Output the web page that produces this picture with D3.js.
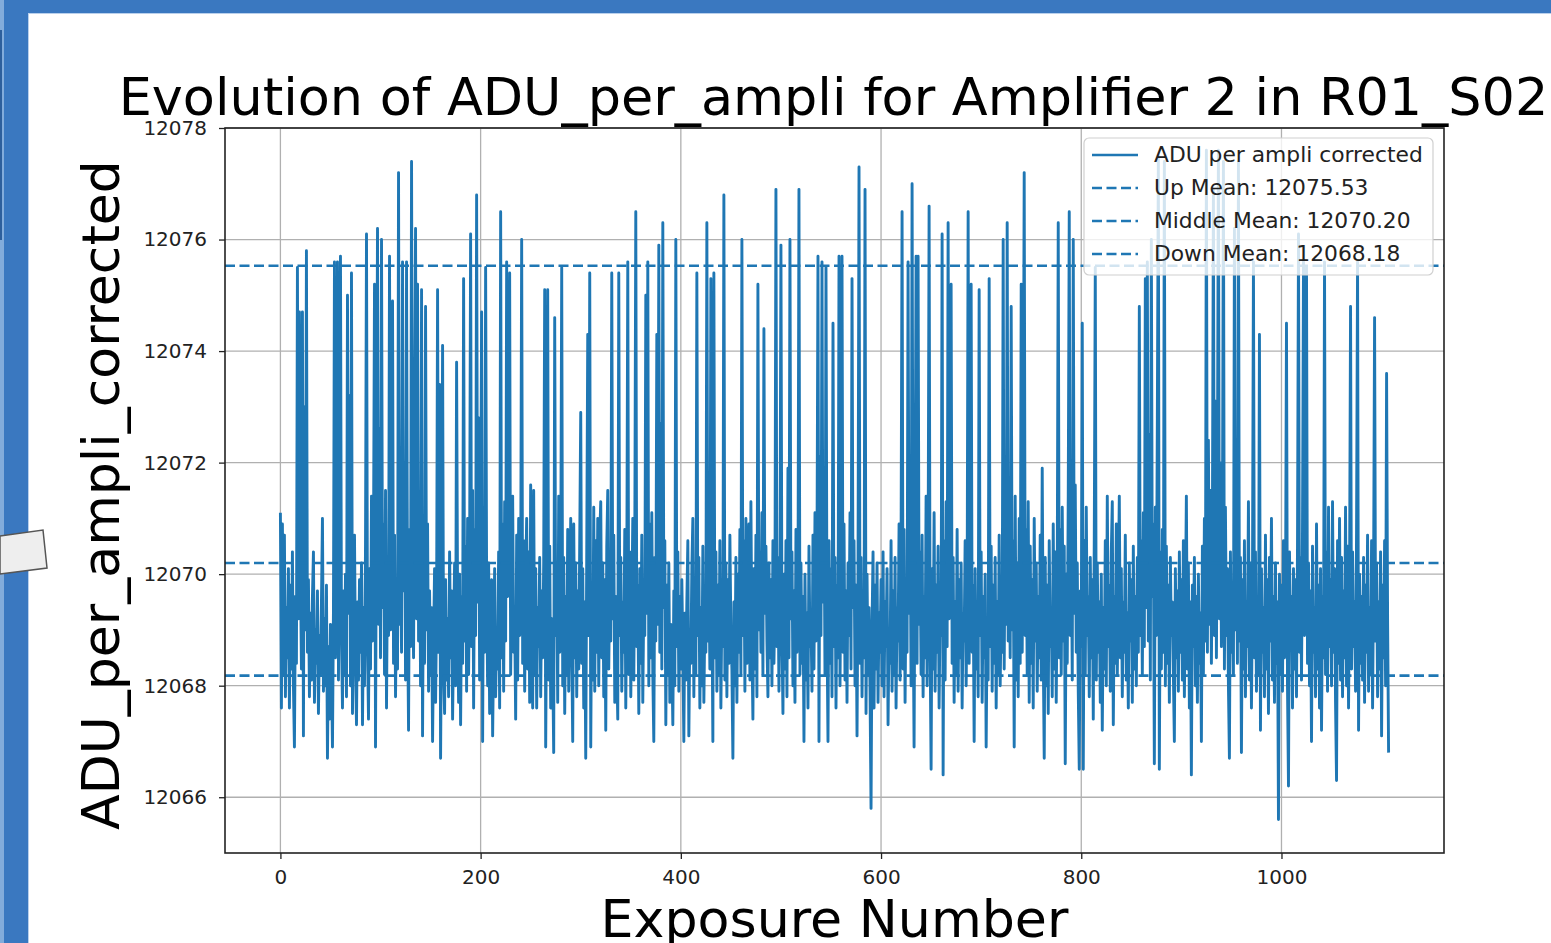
<!DOCTYPE html>
<html>
<head>
<meta charset="utf-8">
<script src="https://cdn.jsdelivr.net/npm/d3@7"></script>
<style>
  body { margin: 0; background: #fff; overflow: hidden; }
  text { font-family: "DejaVu Sans", sans-serif; }
</style>
</head>
<body>
<div id="chart-area"></div>
<script>
var width = 1551,
    height = 943;

// chart texts
var titleText = "Evolution of ADU_per_ampli for Amplifier 2 in R01_S02";
var xLabelText = "Exposure Number";
var yLabelText = "ADU_per_ampli_corrected";

// ticks
var xTicks = [0, 200, 400, 600, 800, 1000];
var yTicks = [12066, 12068, 12070, 12072, 12074, 12076, 12078];
var yDomain = [12065, 12078];

// mean lines
var meanNames = ["Up Mean", "Middle Mean", "Down Mean"];
var meanValues = [12075.53, 12070.20, 12068.18];
var seriesName = "ADU per ampli corrected";

// ADU per ampli corrected, one value per exposure
var adu = [
12071.1,12067.6,12070.9,12068.2,12070.7,12067.8,12069.4,12068.5,12070.1,12067.6,12069.8,12068.3,12070.4,12068.0,12066.9,12069.6,12068.4,12075.5,12069.2,12074.7,
12070.1,12068.3,12074.7,12067.1,12073.0,12069.0,12075.8,12068.6,12069.9,12067.8,12069.3,12068.1,12069.6,12070.4,12067.7,12069.0,12068.4,12069.7,12067.5,12068.9,
12068.2,12069.5,12071.0,12067.9,12069.2,12068.0,12069.8,12066.7,12068.7,12067.4,12069.1,12068.3,12066.9,12069.4,12075.6,12068.5,12070.2,12075.6,12068.1,12070.8,
12075.7,12068.9,12067.6,12069.7,12068.2,12070.0,12067.8,12075.0,12069.3,12073.2,12068.0,12075.4,12067.5,12069.8,12070.7,12068.4,12067.3,12069.5,12068.1,12069.9,
12068.6,12070.2,12067.3,12069.4,12068.0,12070.5,12076.1,12068.7,12067.4,12070.1,12068.3,12071.4,12068.8,12070.6,12075.2,12066.9,12071.8,12076.2,12069.1,12072.6,
12068.5,12076.0,12069.4,12070.9,12068.2,12071.5,12067.6,12070.3,12068.9,12075.7,12069.0,12071.2,12074.9,12068.4,12070.7,12067.8,12069.6,12068.3,12077.2,12069.1,
12070.4,12068.6,12075.6,12069.7,12072.0,12068.1,12075.6,12069.3,12067.2,12070.8,12068.7,12077.4,12070.0,12068.5,12072.4,12076.2,12069.2,12075.2,12068.8,12071.3,
12068.0,12075.1,12067.1,12070.6,12068.4,12074.8,12069.0,12070.9,12067.9,12069.7,12068.2,12069.4,12067.0,12068.8,12070.1,12067.7,12069.3,12075.1,12068.6,12073.4,
12066.7,12069.5,12074.1,12068.3,12067.5,12069.9,12068.1,12069.2,12067.8,12070.4,12068.5,12069.7,12067.4,12068.9,12070.2,12068.0,12073.8,12069.4,12067.7,12070.0,
12067.3,12069.6,12068.4,12075.3,12068.8,12070.5,12067.9,12071.0,12068.2,12070.3,12076.1,12068.7,12071.5,12067.6,12070.8,12068.9,12076.8,12069.5,12072.8,12068.1,
12070.6,12074.7,12067.0,12071.2,12068.6,12075.5,12069.8,12068.0,12070.2,12067.5,12069.4,12069.9,12067.1,12068.7,12070.1,12067.8,12069.0,12068.3,12070.4,12067.6,
12076.5,12068.5,12070.9,12067.9,12071.3,12068.8,12075.6,12069.6,12071.1,12075.4,12068.2,12070.0,12071.4,12068.6,12069.3,12067.4,12070.7,12068.1,12071.0,12068.9,
12069.8,12076.0,12068.4,12070.6,12067.9,12069.9,12071.0,12068.3,12070.4,12067.7,12071.6,12068.8,12067.6,12071.5,12068.2,12070.1,12067.6,12069.4,12068.7,12070.3,
12067.8,12069.7,12068.5,12070.2,12075.1,12066.9,12069.8,12075.1,12068.1,12070.5,12067.6,12069.2,12068.4,12066.8,12074.6,12068.9,12070.0,12067.7,12071.4,12068.6,
12069.9,12075.5,12068.0,12070.3,12067.5,12069.6,12068.2,12070.8,12067.9,12069.4,12071.0,12068.7,12067.0,12070.9,12068.5,12070.2,12067.8,12069.7,12068.3,12070.6,
12072.9,12068.4,12070.1,12067.6,12069.5,12066.7,12070.4,12074.3,12068.9,12075.4,12066.9,12069.8,12068.1,12071.2,12067.9,12070.6,12068.6,12071.0,12068.0,12070.7,
12071.3,12068.5,12070.2,12067.8,12069.9,12067.2,12070.5,12071.5,12068.3,12070.0,12068.8,12075.4,12069.2,12070.7,12067.7,12069.6,12068.4,12067.4,12075.4,12068.9,
12070.3,12067.9,12069.5,12068.6,12070.8,12067.6,12069.9,12075.6,12068.2,12070.4,12067.8,12069.3,12071.0,12068.1,12070.6,12076.5,12068.7,12069.8,12067.5,12070.1,
12068.4,12070.7,12067.7,12069.6,12068.9,12075.0,12069.3,12075.6,12068.0,12070.9,12068.5,12071.1,12068.2,12067.0,12070.3,12068.8,12074.3,12069.1,12075.9,12068.6,
12072.7,12068.3,12076.3,12069.4,12070.6,12067.3,12069.8,12068.2,12070.2,12067.7,12069.1,12068.5,12067.3,12069.7,12068.0,12076.0,12068.7,12070.4,12067.9,12069.6,
12068.3,12069.9,12068.6,12067.0,12069.3,12068.1,12069.5,12070.6,12067.1,12069.0,12068.4,12070.1,12071.0,12067.8,12069.7,12068.2,12075.4,12068.9,12070.3,12067.6,
12069.4,12068.0,12070.5,12067.7,12069.2,12068.6,12076.3,12068.8,12070.0,12068.3,12075.3,12069.6,12067.0,12075.4,12068.5,12070.4,12067.9,12069.8,12068.2,12070.6,
12067.6,12069.4,12068.7,12076.8,12068.1,12070.2,12067.8,12069.9,12068.4,12070.7,12069.0,12068.3,12066.7,12069.5,12068.0,12070.3,12067.7,12070.0,12068.6,12070.8,
12068.2,12076.0,12068.9,12070.6,12067.9,12071.0,12068.4,12069.7,12070.9,12068.1,12071.3,12068.7,12067.4,12070.1,12068.3,12070.7,12067.8,12075.2,12069.0,12070.4,
12068.6,12071.1,12068.2,12074.4,12069.3,12070.5,12068.8,12067.8,12070.2,12068.5,12069.9,12068.0,12070.6,12068.4,12069.6,12076.9,12068.7,12070.3,12067.9,12069.8,
12075.9,12068.9,12067.5,12070.0,12068.3,12070.6,12067.8,12071.9,12068.5,12076.0,12069.2,12070.4,12068.0,12069.7,12067.7,12070.8,12068.6,12069.4,12076.9,12068.2,
12070.2,12068.4,12069.6,12067.0,12070.0,12068.1,12069.3,12067.6,12070.5,12068.7,12069.2,12067.9,12070.7,12068.3,12071.1,12068.8,12070.4,12075.7,12067.0,12072.1,
12068.9,12075.6,12069.5,12071.4,12068.2,12075.5,12069.0,12067.0,12070.6,12068.4,12070.1,12067.8,12074.5,12068.7,12070.3,12067.6,12069.8,12068.5,12075.7,12068.0,
12070.4,12075.7,12068.6,12070.9,12068.1,12069.7,12067.7,12070.2,12068.9,12071.1,12068.3,12075.3,12069.4,12070.6,12068.0,12069.8,12067.1,12070.1,12077.3,12068.4,
12070.3,12067.8,12069.6,12068.5,12076.9,12067.5,12070.0,12068.2,12069.4,12067.9,12065.8,12069.1,12070.4,12067.6,12069.8,12068.3,12070.2,12067.7,12069.3,12068.6,
12069.9,12068.0,12070.4,12067.8,12069.5,12068.7,12070.1,12067.3,12069.0,12068.4,12070.6,12067.9,12069.7,12068.2,12070.3,12067.6,12069.4,12068.8,12070.9,12068.1,
12070.5,12076.5,12068.3,12070.8,12067.7,12069.9,12068.6,12075.6,12069.3,12071.2,12068.0,12077.0,12069.5,12066.9,12071.0,12075.7,12068.4,12075.7,12069.1,12070.4,
12068.2,12070.7,12067.8,12069.6,12068.5,12071.4,12068.0,12070.2,12076.6,12068.7,12066.5,12070.1,12068.3,12071.1,12067.9,12069.8,12068.6,12070.5,12067.6,12069.4,
12068.9,12076.1,12066.4,12070.6,12068.1,12071.3,12068.7,12076.3,12069.2,12071.0,12075.2,12068.4,12070.3,12067.7,12069.5,12068.2,12070.8,12067.9,12069.9,12068.5,
12070.2,12067.6,12069.3,12068.8,12070.6,12068.0,12069.7,12076.5,12068.4,12070.9,12075.2,12068.6,12069.8,12067.0,12070.1,12068.3,12069.4,12067.8,12075.1,12068.9,
12070.4,12067.7,12069.6,12068.5,12070.0,12066.9,12069.2,12068.1,12075.3,12068.7,12070.5,12067.9,12069.8,12068.4,12070.3,12067.6,12069.5,12068.2,12070.7,12068.0,
12069.4,12068.6,12076.0,12068.3,12070.9,12069.1,12076.3,12068.8,12071.2,12068.5,12074.8,12069.0,12070.6,12066.9,12071.4,12068.1,12070.2,12067.8,12071.0,12068.4,
12075.2,12068.6,12071.5,12077.2,12068.9,12070.8,12068.2,12071.3,12067.7,12070.5,12068.4,12069.9,12067.6,12071.0,12068.8,12070.2,12067.9,12069.6,12068.5,12070.7,
12068.1,12071.9,12068.6,12066.7,12070.3,12068.0,12069.8,12067.5,12070.6,12068.7,12069.4,12067.8,12070.9,12068.3,12070.4,12067.7,12069.9,12076.3,12068.5,12070.8,
12068.2,12071.2,12068.8,12070.5,12066.6,12070.0,12068.4,12071.4,12076.5,12068.9,12071.0,12068.1,12076.0,12069.3,12071.6,12068.6,12070.2,12067.9,12066.5,12069.7,
12068.7,12074.5,12066.5,12070.6,12068.2,12071.2,12068.9,12069.6,12067.8,12070.3,12068.5,12069.9,12067.4,12070.7,12075.5,12068.1,12070.2,12068.6,12069.5,12067.7,
12070.0,12067.2,12069.4,12068.3,12070.6,12068.0,12071.4,12068.7,12069.8,12067.9,12070.4,12071.3,12067.3,12069.6,12068.4,12070.9,12068.2,12069.7,12071.4,12068.5,
12070.1,12067.8,12069.5,12068.6,12070.7,12068.1,12069.3,12067.6,12070.2,12068.8,12069.9,12067.7,12070.5,12068.3,12069.6,12068.0,12070.3,12068.6,12074.8,12068.9,
12070.6,12068.2,12071.1,12068.7,12075.3,12069.4,12075.6,12068.8,12072.5,12068.1,12076.0,12069.6,12070.9,12066.6,12071.2,12068.9,12072.8,12077.5,12066.5,12070.4,
12068.3,12070.8,12068.6,12077.4,12068.0,12070.5,12068.4,12069.8,12067.7,12070.3,12068.9,12069.5,12068.2,12067.0,12070.1,12068.5,12069.7,12067.9,12070.4,12068.6,
12069.9,12068.1,12070.6,12067.8,12069.4,12071.4,12068.3,12070.2,12067.6,12069.5,12066.4,12069.8,12068.7,12070.3,12068.0,12069.6,12067.7,12070.0,12068.4,12069.3,
12067.0,12070.5,12068.2,12071.0,12068.8,12077.6,12068.6,12072.4,12069.1,12071.5,12068.4,12070.8,12076.9,12068.9,12073.1,12068.5,12071.7,12077.6,12069.2,12072.0,
12068.7,12070.6,12077.4,12068.3,12071.2,12068.9,12070.1,12068.0,12066.7,12070.4,12068.6,12069.8,12068.2,12076.2,12069.0,12070.7,12068.4,12077.4,12068.8,12070.3,
12066.8,12069.9,12068.3,12070.6,12067.8,12069.5,12068.7,12071.3,12068.1,12070.2,12067.6,12069.7,12075.6,12068.5,12070.4,12067.9,12069.3,12068.2,12074.3,12067.2,
12070.1,12068.6,12069.4,12067.8,12070.7,12068.3,12069.9,12067.5,12070.3,12068.8,12071.0,12068.1,12069.6,12067.7,12070.2,12068.4,12069.5,12065.6,12070.0,12068.2,
12069.8,12067.9,12070.6,12068.5,12069.3,12074.5,12068.0,12066.2,12070.4,12068.7,12069.6,12067.6,12070.1,12068.3,12069.9,12067.8,12070.5,12076.1,12068.6,12070.3,
12068.1,12070.8,12075.6,12068.9,12071.1,12075.5,12068.4,12070.2,12068.0,12069.7,12067.0,12070.5,12068.6,12069.4,12067.8,12070.9,12068.3,12069.8,12067.6,12070.1,
12067.2,12069.6,12068.5,12075.6,12068.2,12070.4,12067.9,12071.2,12068.7,12069.9,12068.0,12071.3,12068.6,12070.1,12067.7,12066.3,12070.6,12068.4,12071.0,12068.1,
12070.3,12067.8,12069.7,12068.5,12071.2,12068.0,12070.5,12067.6,12069.9,12074.8,12068.3,12070.4,12068.7,12069.5,12067.9,12070.8,12075.6,12067.2,12070.0,12068.4,
12069.6,12068.1,12070.3,12067.7,12069.8,12068.6,12070.7,12067.9,12069.4,12068.2,12070.6,12067.6,12069.9,12074.6,12068.8,12070.2,12067.8,12069.5,12068.3,12070.4,
12067.1,12069.8,12068.5,12070.6,12068.0,12073.6,12069.2,12066.8
];

var color = "#1f77b4";
var plot = { left: 225, right: 1444, top: 128, bottom: 853 };

var svg = d3.select("#chart-area").append("svg")
    .attr("width", width)
    .attr("height", height);

// slide frame round the picture
svg.append("rect").attr("width", width).attr("height", height).attr("fill", "#ffffff");
svg.append("rect").attr("x", 0).attr("y", 0).attr("width", width).attr("height", 13).attr("fill", "#3a78c0");
svg.append("rect").attr("x", 0).attr("y", 0).attr("width", 28).attr("height", height).attr("fill", "#3a78c0");
svg.append("rect").attr("x", 0).attr("y", 0).attr("width", 4).attr("height", height).attr("fill", "#82acdb");
svg.append("rect").attr("x", 0).attr("y", 30).attr("width", 2).attr("height", 210).attr("fill", "#2d5f9c");
svg.append("line").attr("x1", 28.5).attr("x2", 28.5).attr("y1", 13).attr("y2", height)
    .attr("stroke", "#b9d0ec").attr("stroke-width", 1);
svg.append("line").attr("x1", 28).attr("x2", width).attr("y1", 13.5).attr("y2", 13.5)
    .attr("stroke", "#b9d0ec").attr("stroke-width", 1);
svg.append("polygon")
    .attr("points", "0,536 43,530 47,568 0,574")
    .attr("fill", "#eeeeee").attr("stroke", "#555").attr("stroke-width", 1.5);

var n = adu.length;
var x = d3.scaleLinear()
    .domain([-0.05 * (n - 1), 1.05 * (n - 1)])
    .range([plot.left, plot.right]);
var y = d3.scaleLinear()
    .domain(yDomain)
    .range([plot.bottom, plot.top]);

// grid
var grid = svg.append("g").attr("class", "grid");
grid.selectAll(".vgrid").data(xTicks).enter().append("line")
    .attr("x1", d => x(d)).attr("x2", d => x(d))
    .attr("y1", plot.top).attr("y2", plot.bottom)
    .attr("stroke", "#b0b0b0").attr("stroke-width", 1.3);
grid.selectAll(".hgrid").data(yTicks).enter().append("line")
    .attr("x1", plot.left).attr("x2", plot.right)
    .attr("y1", d => y(d)).attr("y2", d => y(d))
    .attr("stroke", "#b0b0b0").attr("stroke-width", 1.3);

svg.append("clipPath").attr("id", "clip")
  .append("rect")
    .attr("x", plot.left).attr("y", plot.top)
    .attr("width", plot.right - plot.left).attr("height", plot.bottom - plot.top);

// series
var line = d3.line()
    .x((d, i) => x(i))
    .y(d => y(d));

svg.append("path")
    .datum(adu)
    .attr("clip-path", "url(#clip)")
    .attr("fill", "none")
    .attr("stroke", color)
    .attr("stroke-width", 2.9)
    .attr("stroke-linejoin", "round")
    .attr("d", line);

// mean lines
svg.selectAll(".mean").data(meanValues).enter().append("line")
    .attr("class", "mean")
    .attr("x1", plot.left).attr("x2", plot.right)
    .attr("y1", d => y(d)).attr("y2", d => y(d))
    .attr("stroke", color)
    .attr("stroke-width", 2.7)
    .attr("stroke-dasharray", "10,4.5");

// axes
var xAxis = svg.append("g")
    .attr("transform", "translate(0," + plot.bottom + ")")
    .call(d3.axisBottom(x).tickValues(xTicks).tickSize(6).tickPadding(11).tickFormat(d3.format("d")));
var yAxis = svg.append("g")
    .attr("transform", "translate(" + plot.left + ",0)")
    .call(d3.axisLeft(y).tickValues(yTicks).tickSize(6).tickPadding(12).tickFormat(d3.format("d")));
[xAxis, yAxis].forEach(function(a) {
  a.select(".domain").remove();
  a.selectAll(".tick line").attr("stroke", "#222").attr("stroke-width", 1.3);
  a.selectAll(".tick text")
    .attr("font-family", "DejaVu Sans")
    .attr("font-size", 20)
    .attr("fill", "#222");
});

svg.append("rect")
    .attr("x", plot.left).attr("y", plot.top)
    .attr("width", plot.right - plot.left).attr("height", plot.bottom - plot.top)
    .attr("fill", "none").attr("stroke", "#222").attr("stroke-width", 1.6);

function fitWidth(sel, target) {
  var w = sel.node().getComputedTextLength();
  var fs = parseFloat(sel.attr("font-size"));
  sel.attr("font-size", fs * target / w);
}

// titles
var cx = (plot.left + plot.right) / 2;
var title = svg.append("text")
    .attr("x", cx - 1).attr("y", 115)
    .attr("text-anchor", "middle")
    .attr("font-size", 50)
    .attr("fill", "#000")
    .text(titleText);
fitWidth(title, 1430);

var xLabel = svg.append("text")
    .attr("x", cx).attr("y", 937)
    .attr("text-anchor", "middle")
    .attr("font-size", 48)
    .attr("fill", "#000")
    .text(xLabelText);
fitWidth(xLabel, 468);

var yLabel = svg.append("text")
    .attr("transform", "translate(119," + 495 + ") rotate(-90)")
    .attr("text-anchor", "middle")
    .attr("font-size", 48)
    .attr("fill", "#000")
    .text(yLabelText);
fitWidth(yLabel, 670);

// legend
var legendNames = [seriesName].concat(meanNames.map((m, i) => m + ": " + meanValues[i].toFixed(2)));
var legend = svg.append("g");
legend.append("rect")
    .attr("x", 1084).attr("y", 138)
    .attr("width", 349).attr("height", 137)
    .attr("rx", 5)
    .attr("fill", "#fff").attr("fill-opacity", 0.8)
    .attr("stroke", "#d0d0d0").attr("stroke-width", 1.2);

var rows = legend.selectAll(".row").data(legendNames).enter().append("g")
    .attr("transform", (d, i) => "translate(0," + (155 + i * 33) + ")");
rows.append("line")
    .attr("x1", 1092).attr("x2", 1138)
    .attr("stroke", color).attr("stroke-width", 2.7)
    .attr("stroke-dasharray", (d, i) => i === 0 ? null : "10,4.5");
var legendText = rows.append("text")
    .attr("x", 1154).attr("y", 7)
    .attr("font-size", 20)
    .attr("fill", "#222")
    .text(d => d);
var lw = legendText.nodes()[0].getComputedTextLength();
legendText.attr("font-size", 20 * 269 / lw);
</script>
</body>
</html>
